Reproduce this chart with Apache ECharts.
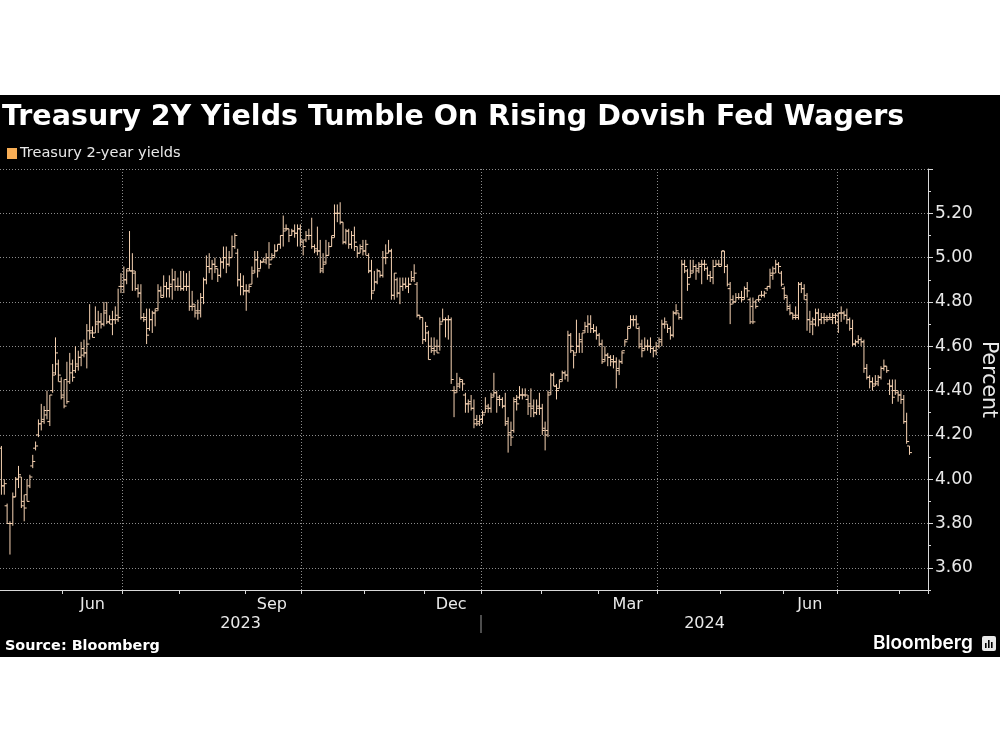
<!DOCTYPE html>
<html>
<head>
<meta charset="utf-8">
<style>html,body{margin:0;padding:0;background:#fff}#c{position:absolute;left:0;top:95px;width:1000px;height:562px}</style>
<script src="https://cdn.jsdelivr.net/npm/echarts@6/dist/echarts.min.js"></script>
</head>
<body>
<div id="c"></div>
<script>
const seriesName = 'Treasury 2-year yields';
const titleText = 'Treasury 2Y Yields Tumble On Rising Dovish Fed Wagers';
const sourceText = 'Source: Bloomberg';
const logoText = 'Bloomberg';
const axisName = 'Percent';

const firstDay = '2023-05-01';
const slotCount = 326;
const holidays = ['2023-05-29','2023-06-19','2023-07-04','2023-09-04','2023-11-23','2023-12-25','2024-01-01','2024-01-15','2024-02-19','2024-05-27','2024-06-19','2024-07-04'];
const monthLabelDays = {'2023-06-15':'Jun','2023-09-15':'Sep','2023-12-14':'Dec','2024-03-15':'Mar','2024-06-14':'Jun'};
const yearLabelDays = {'2023-08-30':'2023','2024-04-23':'2024'};
const gridMonths = ['2023-07','2023-10','2024-01','2024-04','2024-07'];
const yLabelValues = [3.6,3.8,4.0,4.2,4.4,4.6,4.8,5.0,5.2];
const yGridValues = [3.6,3.8,4.0,4.2,4.4,4.6,4.8,5.0,5.2,5.4];

const highs = [
4.15,4.00,3.89,3.81,3.94,4.01,4.06,4.01,3.93,4.00,
4.02,4.11,4.17,4.27,4.34,4.33,4.40,4.38,4.52,4.64,
4.54,4.46,4.45,4.53,4.57,4.54,4.60,4.58,4.62,4.63,
4.70,4.79,4.69,4.78,4.76,4.75,4.80,4.80,4.74,4.76,
4.78,4.86,4.93,4.96,4.95,5.12,5.02,4.94,4.88,4.88,
4.75,4.77,4.77,4.76,4.77,4.88,4.87,4.92,4.89,4.92,
4.95,4.94,4.91,4.94,4.94,4.93,4.94,4.85,4.79,4.81,
4.84,4.91,5.01,5.02,4.99,5.00,4.95,5.00,5.05,5.05,
5.03,5.10,5.11,5.04,4.93,4.92,4.88,4.88,4.96,5.03,
5.03,4.99,5.00,5.02,5.07,5.02,5.06,5.06,5.10,5.19,
5.15,5.13,5.13,5.15,5.15,5.15,5.08,5.12,5.13,5.18,
5.06,5.14,5.08,5.02,5.08,5.07,5.10,5.24,5.24,5.25,
5.16,5.13,5.13,5.12,5.14,5.05,5.06,5.08,5.08,5.02,
4.99,4.94,4.95,4.94,5.03,5.06,5.08,5.04,4.93,4.91,
4.91,4.91,4.91,4.91,4.94,4.97,4.89,4.74,4.73,4.71,
4.67,4.64,4.64,4.63,4.73,4.77,4.73,4.74,4.73,4.42,
4.48,4.46,4.45,4.39,4.36,4.38,4.36,4.29,4.29,4.31,
4.37,4.34,4.39,4.48,4.40,4.38,4.37,4.39,4.28,4.26,
4.37,4.38,4.42,4.41,4.41,4.38,4.41,4.36,4.36,4.39,
4.34,4.26,4.40,4.48,4.48,4.43,4.45,4.49,4.49,4.67,
4.66,4.58,4.72,4.66,4.66,4.71,4.74,4.74,4.70,4.69,
4.66,4.63,4.60,4.57,4.56,4.56,4.55,4.54,4.58,4.63,
4.69,4.74,4.74,4.74,4.69,4.63,4.64,4.63,4.64,4.60,
4.62,4.64,4.72,4.73,4.70,4.69,4.76,4.79,4.75,4.99,
4.99,4.95,4.99,4.99,4.97,4.98,4.99,4.99,4.96,4.94,
4.99,4.99,4.99,5.03,5.03,4.97,4.89,4.83,4.84,4.84,
4.85,4.87,4.89,4.82,4.82,4.81,4.83,4.85,4.85,4.87,
4.95,4.96,4.99,4.98,4.94,4.87,4.83,4.79,4.75,4.78,
4.89,4.89,4.88,4.84,4.76,4.73,4.77,4.77,4.75,4.75,
4.74,4.75,4.75,4.75,4.75,4.78,4.76,4.77,4.73,4.72,
4.63,4.65,4.64,4.63,4.52,4.47,4.46,4.47,4.47,4.51,
4.54,4.51,4.45,4.45,4.45,4.40,4.40,4.38,4.30,4.15];

const lows = [
3.93,3.93,3.80,3.66,3.79,3.92,3.96,3.87,3.81,3.90,
3.96,4.05,4.13,4.19,4.22,4.25,4.27,4.24,4.39,4.47,
4.44,4.36,4.32,4.34,4.43,4.44,4.48,4.49,4.51,4.55,
4.50,4.63,4.64,4.66,4.66,4.68,4.69,4.70,4.70,4.65,
4.70,4.71,4.84,4.84,4.88,4.94,4.85,4.85,4.82,4.72,
4.71,4.61,4.67,4.66,4.69,4.76,4.82,4.82,4.82,4.82,
4.81,4.85,4.85,4.85,4.85,4.85,4.76,4.76,4.73,4.72,
4.73,4.79,4.88,4.93,4.90,4.93,4.89,4.91,4.95,4.93,
4.96,5.00,5.04,4.87,4.83,4.83,4.76,4.84,4.88,4.93,
4.91,4.95,4.98,4.97,4.95,4.99,5.00,5.03,5.04,5.05,
5.12,5.07,5.10,5.09,5.05,5.05,5.01,5.07,5.08,5.04,
5.02,5.01,4.93,4.93,4.97,5.01,5.05,5.09,5.16,5.15,
5.06,5.06,5.04,5.04,5.03,5.00,5.02,5.01,5.01,4.93,
4.81,4.85,4.88,4.91,4.91,4.97,5.02,4.81,4.81,4.82,
4.79,4.85,4.86,4.84,4.89,4.89,4.73,4.72,4.61,4.62,
4.54,4.57,4.56,4.57,4.58,4.71,4.64,4.63,4.43,4.28,
4.39,4.41,4.40,4.30,4.30,4.31,4.23,4.24,4.24,4.25,
4.30,4.30,4.30,4.37,4.30,4.33,4.32,4.24,4.12,4.15,
4.21,4.31,4.36,4.36,4.37,4.29,4.28,4.28,4.29,4.29,
4.20,4.13,4.19,4.38,4.42,4.36,4.41,4.44,4.45,4.44,
4.57,4.50,4.57,4.57,4.57,4.66,4.66,4.66,4.66,4.63,
4.60,4.52,4.53,4.51,4.51,4.50,4.41,4.47,4.52,4.60,
4.63,4.68,4.69,4.68,4.59,4.55,4.58,4.58,4.57,4.55,
4.56,4.59,4.60,4.68,4.66,4.63,4.64,4.74,4.72,4.72,
4.93,4.85,4.91,4.93,4.90,4.93,4.88,4.94,4.90,4.89,
4.88,4.96,4.96,4.96,4.93,4.87,4.70,4.79,4.80,4.81,
4.80,4.81,4.82,4.70,4.70,4.77,4.80,4.82,4.82,4.85,
4.86,4.90,4.93,4.93,4.87,4.81,4.76,4.74,4.72,4.72,
4.72,4.84,4.81,4.67,4.66,4.65,4.69,4.69,4.70,4.70,
4.71,4.72,4.70,4.70,4.66,4.71,4.72,4.70,4.67,4.60,
4.60,4.61,4.60,4.48,4.45,4.41,4.40,4.42,4.42,4.45,
4.49,4.48,4.38,4.34,4.38,4.35,4.34,4.25,4.16,4.11];

const closes = [
3.97,3.98,3.80,3.80,3.92,4.00,4.02,3.88,3.87,3.90,
4.01,4.08,4.15,4.25,4.26,4.31,4.31,4.38,4.47,4.57,
4.47,4.37,4.33,4.35,4.48,4.46,4.52,4.55,4.56,4.57,
4.61,4.67,4.64,4.70,4.71,4.70,4.75,4.71,4.72,4.72,
4.74,4.73,4.87,4.90,4.94,4.94,4.94,4.86,4.84,4.73,
4.72,4.65,4.72,4.75,4.76,4.85,4.82,4.87,4.86,4.88,
4.90,4.87,4.87,4.86,4.87,4.87,4.78,4.79,4.75,4.75,
4.82,4.90,4.96,4.95,4.97,4.96,4.92,4.98,5.00,4.97,
5.00,5.05,5.10,4.90,4.87,4.85,4.85,4.87,4.93,4.99,
4.94,4.98,4.98,5.00,4.97,5.00,5.03,5.06,5.10,5.12,
5.13,5.10,5.12,5.11,5.13,5.08,5.05,5.10,5.10,5.05,
5.03,5.03,4.94,4.97,5.01,5.05,5.09,5.20,5.20,5.16,
5.07,5.12,5.06,5.10,5.07,5.02,5.04,5.03,5.06,4.94,
4.84,4.89,4.94,4.92,5.00,5.00,5.03,4.83,4.93,4.84,
4.87,4.88,4.87,4.88,4.90,4.93,4.74,4.73,4.63,4.69,
4.54,4.58,4.58,4.57,4.70,4.72,4.72,4.72,4.45,4.39,
4.42,4.45,4.43,4.34,4.34,4.32,4.25,4.25,4.27,4.29,
4.32,4.32,4.37,4.39,4.36,4.36,4.33,4.25,4.20,4.19,
4.35,4.34,4.38,4.38,4.38,4.33,4.32,4.30,4.32,4.32,
4.22,4.20,4.38,4.47,4.42,4.40,4.44,4.48,4.47,4.65,
4.60,4.56,4.60,4.63,4.66,4.69,4.70,4.68,4.67,4.65,
4.61,4.53,4.56,4.55,4.53,4.53,4.49,4.53,4.57,4.62,
4.68,4.72,4.72,4.70,4.60,4.58,4.60,4.60,4.59,4.58,
4.60,4.62,4.70,4.71,4.68,4.65,4.75,4.76,4.73,4.97,
4.96,4.88,4.93,4.96,4.94,4.97,4.97,4.97,4.92,4.91,
4.96,4.97,4.96,5.03,4.96,4.88,4.79,4.80,4.82,4.82,
4.81,4.86,4.85,4.71,4.71,4.78,4.81,4.83,4.84,4.87,
4.92,4.93,4.97,4.96,4.88,4.83,4.78,4.75,4.73,4.73,
4.88,4.86,4.83,4.72,4.70,4.70,4.75,4.72,4.73,4.72,
4.72,4.73,4.74,4.74,4.75,4.75,4.74,4.72,4.68,4.61,
4.62,4.63,4.62,4.50,4.46,4.44,4.42,4.43,4.46,4.50,
4.51,4.49,4.42,4.37,4.40,4.38,4.36,4.26,4.17,4.12];

const opens = [
4.14,3.97,3.88,3.80,3.80,3.92,4.00,4.01,3.90,3.93,
3.97,4.06,4.14,4.20,4.25,4.27,4.29,4.26,4.40,4.48,
4.52,4.44,4.38,4.45,4.44,4.52,4.49,4.51,4.55,4.59,
4.57,4.67,4.66,4.66,4.71,4.71,4.70,4.76,4.71,4.70,
4.72,4.72,4.87,4.87,4.90,4.95,4.94,4.93,4.86,4.84,
4.73,4.73,4.68,4.72,4.75,4.77,4.85,4.83,4.87,4.86,
4.87,4.90,4.87,4.87,4.86,4.87,4.87,4.78,4.78,4.76,
4.76,4.82,4.90,4.96,4.95,4.97,4.95,4.92,4.98,5.00,
4.97,5.00,5.05,5.02,4.90,4.87,4.85,4.85,4.88,4.94,
4.99,4.95,4.98,4.99,5.00,4.99,5.01,5.03,5.06,5.10,
5.13,5.13,5.10,5.12,5.11,5.13,5.07,5.08,5.10,5.10,
5.05,5.04,5.03,4.95,4.98,5.01,5.05,5.10,5.20,5.20,
5.16,5.07,5.12,5.06,5.10,5.05,5.02,5.05,5.03,5.01,
4.94,4.85,4.89,4.94,4.92,5.00,5.02,5.03,4.83,4.90,
4.84,4.87,4.88,4.87,4.88,4.91,4.88,4.74,4.73,4.63,
4.66,4.60,4.59,4.60,4.60,4.71,4.72,4.72,4.72,4.40,
4.40,4.43,4.44,4.38,4.34,4.35,4.32,4.27,4.26,4.27,
4.30,4.33,4.32,4.38,4.39,4.37,4.36,4.33,4.26,4.21,
4.22,4.36,4.37,4.38,4.38,4.36,4.34,4.33,4.30,4.33,
4.32,4.23,4.22,4.39,4.47,4.42,4.41,4.45,4.48,4.47,
4.65,4.58,4.57,4.60,4.62,4.67,4.69,4.70,4.68,4.67,
4.65,4.61,4.54,4.56,4.55,4.54,4.53,4.50,4.53,4.58,
4.63,4.69,4.72,4.72,4.68,4.61,4.59,4.60,4.60,4.59,
4.58,4.60,4.63,4.70,4.70,4.68,4.65,4.75,4.75,4.73,
4.97,4.94,4.91,4.94,4.96,4.95,4.96,4.97,4.95,4.92,
4.91,4.96,4.97,4.97,5.03,4.96,4.86,4.81,4.80,4.82,
4.82,4.82,4.86,4.81,4.78,4.80,4.81,4.83,4.83,4.86,
4.87,4.93,4.95,4.97,4.93,4.86,4.82,4.77,4.75,4.74,
4.74,4.88,4.86,4.81,4.72,4.71,4.72,4.75,4.72,4.73,
4.73,4.73,4.72,4.73,4.71,4.75,4.75,4.74,4.72,4.68,
4.61,4.62,4.63,4.62,4.50,4.46,4.44,4.43,4.44,4.46,
4.50,4.51,4.43,4.42,4.40,4.39,4.38,4.36,4.26,4.15];

if (new Set([opens.length, highs.length, lows.length, closes.length]).size !== 1 || closes.length !== 320) {
  throw new Error('lengths ' + [opens.length, highs.length, lows.length, closes.length]);
}

// Trading calendar for the category axis
const days = [];
for (let d = new Date(firstDay + 'T00:00:00Z'); days.length < slotCount; d.setUTCDate(d.getUTCDate() + 1)) {
  const s = d.toISOString().slice(0, 10);
  const w = d.getUTCDay();
  if (w !== 0 && w !== 6 && holidays.indexOf(s) < 0) days.push(s);
}
const isMonthStart = (i) => i > 0 && days[i].slice(0, 7) !== days[i - 1].slice(0, 7);
const isGridDay = (i) => isMonthStart(i) && gridMonths.indexOf(days[i].slice(0, 7)) >= 0;

const ink = '#e9e9e9';
const dotted = { color: '#8c8c8c', width: 1, type: [1, 2] };
const barColor = '#f6d2b2';
const font = '"DejaVu Sans", sans-serif';

function renderOhlc(params, api) {
  const i = api.value(0);
  const o = api.coord([i, api.value(1)]);
  const h = api.coord([i, api.value(2)]);
  const l = api.coord([i, api.value(3)]);
  const c = api.coord([i, api.value(4)]);
  const style = { stroke: barColor, lineWidth: 1, fill: null };
  return {
    type: 'group',
    children: [
      { type: 'line', shape: { x1: h[0], y1: h[1], x2: l[0], y2: l[1] }, style },
      { type: 'line', shape: { x1: o[0] - 2.5, y1: o[1], x2: o[0], y2: o[1] }, style },
      { type: 'line', shape: { x1: c[0], y1: c[1], x2: c[0] + 2.5, y2: c[1] }, style }
    ]
  };
}

const chart = echarts.init(document.getElementById('c'), null, { renderer: 'canvas' });
chart.setOption({
  animation: false,
  backgroundColor: '#000',
  textStyle: { fontFamily: font },
  title: {
    text: titleText, left: 0, top: 8, padding: [0, 0, 0, 2],
    textStyle: { color: '#fff', fontSize: 28.5, fontWeight: 'bold', fontFamily: font }
  },
  legend: {
    left: 7, top: 51, padding: 0, itemGap: 0, itemWidth: 10, itemHeight: 11,
    icon: 'rect',
    data: [seriesName],
    textStyle: { color: ink, fontSize: 14.6, fontFamily: font, padding: [0, 0, 0, -2] }
  },
  grid: { left: 0, right: 72, top: 74, bottom: 67, containLabel: false, outerBoundsMode: 'none' },
  xAxis: [
    {
      type: 'category', data: days, boundaryGap: true, position: 'bottom',
      axisLine: { show: true, lineStyle: { color: '#d8d8d8', width: 1 } },
      axisTick: { show: true, length: 4, interval: (i) => isMonthStart(i), lineStyle: { color: '#d8d8d8' } },
      splitLine: { show: true, interval: (i) => isGridDay(i), lineStyle: dotted },
      axisLabel: {
        show: true, margin: 7, color: ink, fontSize: 16, fontFamily: font,
        interval: (i, v) => monthLabelDays[v] !== undefined,
        formatter: (v) => monthLabelDays[v] || ''
      }
    },
    {
      type: 'category', data: days, boundaryGap: true, position: 'bottom', offset: 25,
      axisLine: { show: false },
      axisTick: { show: false },
      splitLine: { show: false },
      axisLabel: {
        show: true, margin: 1, color: ink, fontSize: 16, fontFamily: font,
        interval: (i, v) => yearLabelDays[v] !== undefined,
        formatter: (v) => yearLabelDays[v] || ''
      }
    }
  ],
  yAxis: [
    {
      type: 'value', position: 'right', min: 3.5, max: 5.4,
      name: axisName, nameLocation: 'middle', nameRotate: -90, nameGap: 50, nameMoveOverlap: false,
      nameTextStyle: { color: ink, fontSize: 20.5, fontFamily: font },
      axisLine: { show: true, lineStyle: { color: '#d8d8d8', width: 1 } },
      axisTick: { show: true, length: 5, customValues: yGridValues, lineStyle: { color: '#d8d8d8' } },
      splitLine: { show: true, lineStyle: dotted },
      axisLabel: {
        show: true, margin: 7, color: ink, fontSize: 17, fontFamily: font,
        customValues: yLabelValues, formatter: (v) => v.toFixed(2)
      }
    },
    {
      type: 'value', position: 'right', min: 3.5, max: 5.4, interval: 0.1,
      axisLine: { show: false },
      axisTick: { show: true, length: 3, lineStyle: { color: '#d8d8d8' } },
      splitLine: { show: false },
      axisLabel: { show: false }
    }
  ],
  series: [{
    name: seriesName, type: 'custom', xAxisIndex: 0, yAxisIndex: 0,
    renderItem: renderOhlc,
    itemStyle: { color: '#f7ad55' },
    encode: { x: 0, y: [1, 2, 3, 4] },
    data: closes.map((c, i) => [i, opens[i], highs[i], lows[i], c]),
    clip: false
  }],
  graphic: [
    { type: 'line', shape: { x1: 481, y1: 520, x2: 481, y2: 538 }, style: { stroke: '#9a9a9a', lineWidth: 1 } },
    { type: 'text', left: 5, top: 544, style: { text: sourceText, fill: '#fff', font: 'bold 14.4px ' + font } },
    { type: 'text', left: 873, top: 539, style: { text: logoText, fill: '#fff', font: '600 19px "Inter", sans-serif' } },
    { type: 'rect', left: 982, top: 541, shape: { width: 14, height: 15, r: 2 }, style: { fill: '#e8e8e8' } },
    { type: 'rect', left: 985, top: 548, shape: { width: 1.6, height: 5 }, style: { fill: '#000' } },
    { type: 'rect', left: 988, top: 545, shape: { width: 1.6, height: 8 }, style: { fill: '#000' } },
    { type: 'rect', left: 991, top: 547, shape: { width: 1.6, height: 6 }, style: { fill: '#000' } }
  ]
});
</script>
</body>
</html>
